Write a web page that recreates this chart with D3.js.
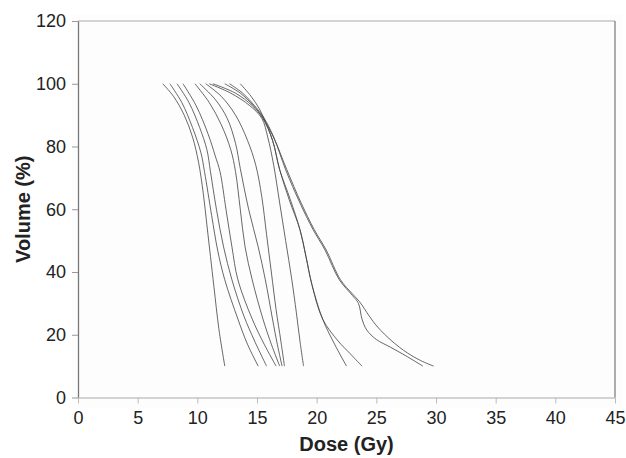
<!DOCTYPE html>
<html>
<head>
<meta charset="utf-8">
<script src="https://cdn.jsdelivr.net/npm/d3@7.9.0/dist/d3.min.js"></script>
<style>
  body { margin: 0; background: #fff; }
  svg { display: block; font-family: Arial, "Liberation Sans", sans-serif; }
</style>
</head>
<body>
<svg id="chart" width="626" height="458"></svg>
<script>
// axis ticks
const doseTicks = [0, 5, 10, 15, 20, 25, 30, 35, 40, 45];
const volumeTicks = [0, 20, 40, 60, 80, 100, 120];

// one DVH curve per patient: [dose (Gy), volume (%)]
const patient1 = [[7.1,100],[8.0,96],[8.9,90],[9.6,83],[10.1,75],[10.5,65],[10.8,55],[11.1,45],[11.4,35],[11.8,22],[12.3,10]];
const patient2 = [[7.7,100],[8.7,94],[9.6,86],[10.3,78],[10.6,72],[11.2,58],[11.7,47],[12.3,37.5],[13.4,25],[14.2,17],[15.1,10]];
const patient3 = [[8.3,100],[9.3,94],[10.2,86],[10.8,79],[11.1,72],[11.6,60],[12.2,48],[12.9,37.5],[13.9,26],[14.8,18],[15.8,10]];
const patient4 = [[8.8,100],[9.9,93],[10.9,84],[11.5,77],[11.9,72],[12.4,60],[12.9,48],[13.4,37.5],[14.6,25],[15.6,17],[16.6,10]];
const patient5 = [[9.8,100],[11.0,94],[12.0,87],[12.8,79],[13.2,72],[13.6,60],[14.0,48],[14.6,37.5],[15.5,25],[16.2,17],[16.9,10]];
const patient6 = [[10.2,100],[11.5,95],[12.5,89],[13.2,81],[13.6,73],[14.3,60],[15.1,48],[15.7,37.5],[16.3,25],[16.7,17],[17.1,10]];
const patient7 = [[10.7,100],[12.0,96],[13.2,90],[14.2,82],[14.9,74],[15.4,64],[15.8,52],[16.2,40],[16.6,28],[17.0,18],[17.3,10]];
const patient8 = [[11.0,100],[12.8,97],[14.4,93],[15.4,89],[15.9,83],[16.4,74],[16.9,62],[17.4,50],[17.9,38],[18.3,27],[18.6,18],[18.9,10]];
const patient9 = [[11.3,100],[13.2,97],[14.6,93],[15.5,89],[16.3,82],[16.9,72.6],[17.7,63],[18.6,53.5],[19.1,45],[19.6,36],[20.5,25],[21.5,17],[22.5,10]];
const patient10 = [[12.3,100],[13.6,97],[14.7,93],[15.5,89],[16.3,82],[16.9,72.6],[17.8,63],[18.6,53.5],[19.1,45],[19.6,36],[20.5,25],[21.8,18],[22.8,14],[23.8,10]];
const patient11 = [[12.7,100],[13.8,97],[14.8,93],[15.6,89],[16.4,83],[17.4,72.6],[18.6,62],[19.7,53.5],[20.7,47],[21.9,37.5],[23.0,32.5],[23.5,30],[23.8,25],[24.2,21.5],[25.0,18.5],[26.2,16],[27.6,13],[28.9,10]];
const patient12 = [[13.6,100],[14.5,96],[15.2,92],[15.7,88],[16.5,82],[17.5,72.6],[18.7,62],[19.8,53.5],[20.8,47],[22.0,37.5],[23.0,33],[23.6,30.5],[24.4,26],[25.1,22.5],[26.3,18],[27.6,14.2],[28.7,11.8],[29.8,10]];

const patients = [patient1, patient2, patient3, patient4, patient5, patient6,
  patient7, patient8, patient9, patient10, patient11, patient12];

const svg = d3.select('#chart');

const x = d3.scaleLinear().domain([0, 45]).range([78, 615]);
const y = d3.scaleLinear().domain([0, 120]).range([397.5, 21]);

// faint plot background
svg.append('rect')
  .attr('x', 72).attr('y', 14)
  .attr('width', 550).attr('height', 394)
  .attr('fill', '#fdfdfd');

// top and right frame
svg.append('line')
  .attr('x1', x(0)).attr('x2', x(45))
  .attr('y1', y(120)).attr('y2', y(120))
  .attr('stroke', '#aaa').attr('stroke-width', 1);
svg.append('line')
  .attr('x1', x(45)).attr('x2', x(45))
  .attr('y1', y(120)).attr('y2', y(0))
  .attr('stroke', '#777').attr('stroke-width', 1.2);

// y axis
const yAxis = svg.append('g')
  .attr('transform', `translate(${x(0)},0)`)
  .call(d3.axisLeft(y).tickValues(volumeTicks).tickSize(6).tickSizeOuter(0).tickPadding(6));
yAxis.select('.domain').attr('stroke', '#777').attr('stroke-width', 1.3);
yAxis.selectAll('.tick line').attr('stroke', '#999');
yAxis.selectAll('.tick text').attr('font-size', 18).attr('fill', '#222');

// x axis
const xAxis = svg.append('g')
  .attr('transform', `translate(0,${y(0)})`)
  .call(d3.axisBottom(x).tickValues(doseTicks).tickSize(6).tickSizeOuter(0).tickPadding(8));
xAxis.select('.domain').attr('stroke', '#aaa').attr('stroke-width', 1.2);
xAxis.selectAll('.tick line').attr('stroke', '#bbb');
xAxis.selectAll('.tick text').attr('font-size', 18).attr('fill', '#222');

// curves
const line = d3.line()
  .x(d => x(d[0]))
  .y(d => y(d[1]))
  .curve(d3.curveCatmullRom.alpha(0.5));

svg.append('g')
  .selectAll('path')
  .data(patients)
  .join('path')
  .attr('d', line)
  .attr('fill', 'none')
  .attr('stroke', '#444')
  .attr('stroke-width', 0.9)
  .attr('stroke-opacity', 0.9);

// axis titles
svg.append('text')
  .attr('x', (x(0) + x(45)) / 2)
  .attr('y', 451)
  .attr('text-anchor', 'middle')
  .attr('font-size', 20)
  .attr('font-weight', 'bold')
  .attr('fill', '#222')
  .text('Dose (Gy)');

svg.append('text')
  .attr('transform', `translate(30,${(y(0) + y(120)) / 2}) rotate(-90)`)
  .attr('text-anchor', 'middle')
  .attr('font-size', 20)
  .attr('font-weight', 'bold')
  .attr('fill', '#222')
  .text('Volume (%)');
</script>
</body>
</html>
